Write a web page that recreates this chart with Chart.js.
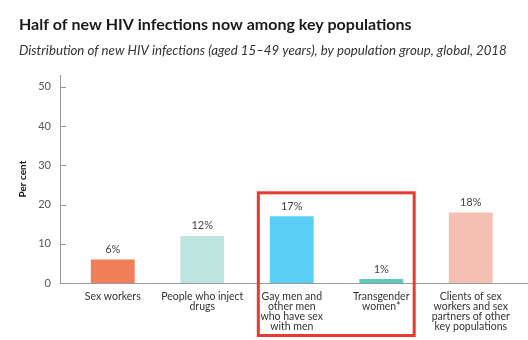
<!DOCTYPE html>
<html>
<head>
<meta charset="utf-8">
<script src="https://cdn.jsdelivr.net/npm/chart.js@4"></script>
<style>
  html, body { margin: 0; padding: 0; background: #fff; }
  #wrap { width: 528px; height: 340px; }
</style>
</head>
<body>
<div id="wrap"><canvas id="c" width="528" height="340"></canvas></div>
<script>
// Population groups (multi-line category labels)
const categories = [
  ["Sex workers"],
  ["People who inject", "drugs"],
  ["Gay men and", "other men", "who have sex", "with men"],
  ["Transgender", "women*"],
  ["Clients of sex", "workers and sex", "partners of other", "key populations"]
];
// Share of new HIV infections, per cent
const shares = [6, 12, 17, 1, 18];
const barColors = ["#EE7F56", "#BEE5E0", "#5BCEF5", "#5EC8BE", "#F5BFB3"];
const yTicks = [0, 10, 20, 30, 40, 50];
// Groups outlined by the highlight frame
const highlighted = [2, 3];

const FONT = "Lato, 'Open Sans', sans-serif";
const AXIS_GREY = "#9a9a9a";

// Axis lines, inward tick marks, value labels and the highlight frame
const decorations = {
  id: "decorations",
  afterDatasetsDraw(chart) {
    const { ctx, chartArea, scales } = chart;
    const y = scales.y;
    const axisX = chartArea.left - 8;
    ctx.save();
    ctx.strokeStyle = AXIS_GREY;
    ctx.lineWidth = 1;
    ctx.beginPath();
    ctx.moveTo(axisX + 0.5, chartArea.top);
    ctx.lineTo(axisX + 0.5, y.getPixelForValue(0) + 0.5);
    ctx.lineTo(chart.width, y.getPixelForValue(0) + 0.5);
    yTicks.forEach(v => {
      const py = Math.round(y.getPixelForValue(v)) + 0.5;
      ctx.moveTo(axisX, py);
      ctx.lineTo(axisX + 6, py);
    });
    ctx.stroke();

    const bars = chart.getDatasetMeta(0).data;
    ctx.fillStyle = "#444";
    ctx.font = "11px " + FONT;
    ctx.textAlign = "center";
    ctx.textBaseline = "middle";
    bars.forEach((b, i) => {
      ctx.fillText(shares[i] + "%", b.x, b.y - 10);
    });

    const a = bars[highlighted[0]], z = bars[highlighted[highlighted.length - 1]];
    const topBar = Math.min(...highlighted.map(i => bars[i].y));
    ctx.strokeStyle = "#E63B2E";
    ctx.lineWidth = 3;
    const left = a.x - a.width / 2 - 11.5;
    const right = z.x + z.width / 2 + 11;
    const top = topBar - 23.5;
    const bottom = chart.height - 4.5;
    ctx.strokeRect(left, top, right - left, bottom - top);
    ctx.restore();
  }
};

new Chart(document.getElementById("c"), {
  type: "bar",
  data: {
    labels: categories,
    datasets: [{
      data: shares,
      backgroundColor: barColors,
      borderWidth: 0,
      barPercentage: 0.49,
      categoryPercentage: 1
    }]
  },
  options: {
    responsive: false,
    animation: false,
    devicePixelRatio: 1,
    layout: { padding: { left: 19, right: 12.5, top: 0, bottom: 8 } },
    plugins: {
      legend: { display: false },
      tooltip: { enabled: false },
      title: {
        display: true,
        text: "Half of new HIV infections now among key populations",
        align: "start",
        color: "#1a1a1a",
        font: { family: FONT, size: 16, weight: "bold", lineHeight: 1.2 },
        padding: { top: 15, bottom: 8 }
      },
      subtitle: {
        display: true,
        text: "Distribution of new HIV infections (aged 15–49 years), by population group, global, 2018",
        align: "start",
        color: "#333",
        font: { family: FONT, size: 13.25, style: "italic", lineHeight: 1.35 },
        padding: { top: 0, bottom: 15 }
      }
    },
    scales: {
      x: {
        afterFit(scale) { scale.height = 49; },
        grid: { display: false, drawTicks: false },
        border: { display: false },
        ticks: {
          color: "#333",
          font: { family: FONT, size: 10.5, lineHeight: 0.98 },
          padding: 8,
          maxRotation: 0,
          autoSkip: false
        }
      },
      y: {
        min: 0,
        max: 53,
        afterFit(scale) { scale.width = 49; },
        grid: { display: false, drawTicks: false },
        border: { display: false },
        ticks: {
          stepSize: 10,
          includeBounds: false,
          color: "#555",
          font: { family: FONT, size: 11 },
          padding: 17
        },
        title: {
          display: true,
          text: "Per cent",
          color: "#1a1a1a",
          font: { family: FONT, size: 10, weight: "bold", lineHeight: 1.2 },
          padding: { top: -2, bottom: 0 }
        }
      }
    }
  },
  plugins: [decorations]
});
</script>
</body>
</html>
